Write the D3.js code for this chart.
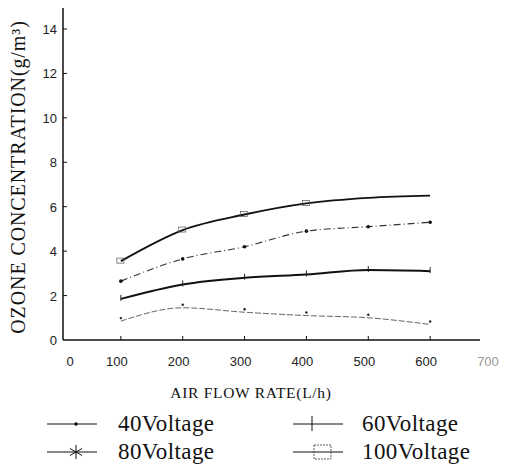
<!DOCTYPE html>
<html>
<head>
<meta charset="utf-8">
<script src="https://cdn.jsdelivr.net/npm/d3@7"></script>
<style>
  body { margin: 0; background: #fff; }
  svg { display: block; }
</style>
</head>
<body>
<svg id="drawing_region"></svg>
<script>
// air flow rate (L/h) and ozone concentration (g/m3) per voltage
const flowRates = [100, 200, 300, 400, 500, 600];
const v40 = [0.85, 1.45, 1.25, 1.1, 1.0, 0.7];
const v60 = [1.85, 2.5, 2.8, 2.95, 3.15, 3.1];
const v80 = [2.65, 3.65, 4.2, 4.9, 5.1, 5.3];
const v100 = [3.55, 4.95, 5.65, 6.15, 6.4, 6.5];
const seriesNames = ["40Voltage", "60Voltage", "80Voltage", "100Voltage"];
const xTicks = [0, 100, 200, 300, 400, 500, 600, 700];
const yTicks = [0, 2, 4, 6, 8, 10, 12, 14];

const width = 510, height = 467;
const svg = d3.select('#drawing_region')
    .attr('width', width)
    .attr('height', height);

const x = d3.scaleLinear().domain([0, 700]).range([59, 492]);
const y = d3.scaleLinear().domain([0, 14]).range([340, 29]);
const axisX = 63;

const series = [
    { name: seriesNames[0], values: v40, width: 1.0, color: '#666', dash: '6,2', marker: 'dot' },
    { name: seriesNames[1], values: v60, width: 2.0, color: '#111', dash: null, marker: 'plus' },
    { name: seriesNames[2], values: v80, width: 1.1, color: '#333', dash: '7,3,1,3', marker: 'star' },
    { name: seriesNames[3], values: v100, width: 1.9, color: '#111', dash: null, marker: 'square' },
];

// axes
svg.append('line')
    .attr('x1', axisX).attr('x2', axisX)
    .attr('y1', 8).attr('y2', y(0))
    .attr('stroke', '#111').attr('stroke-width', 1.5);
svg.append('line')
    .attr('x1', axisX).attr('x2', 480)
    .attr('y1', y(0)).attr('y2', y(0))
    .attr('stroke', '#111').attr('stroke-width', 1.5);

svg.selectAll('.ytick')
    .data(yTicks.filter(d => d > 0))
    .enter()
    .append('line')
    .attr('x1', axisX).attr('x2', axisX + 4)
    .attr('y1', d => y(d)).attr('y2', d => y(d))
    .attr('stroke', '#111');

svg.selectAll('.ylab')
    .data(yTicks)
    .enter()
    .append('text')
    .attr('x', 57)
    .attr('y', d => y(d) + 5)
    .attr('text-anchor', 'end')
    .attr('font-family', 'Liberation Sans, Arial, sans-serif')
    .attr('font-size', 13)
    .attr('fill', '#222')
    .text(d => d);

svg.selectAll('.xtick')
    .data(xTicks.filter(d => d > 0 && d < 700))
    .enter()
    .append('line')
    .attr('x1', d => x(d)).attr('x2', d => x(d))
    .attr('y1', y(0)).attr('y2', y(0) - 4)
    .attr('stroke', '#111');

svg.selectAll('.xlab')
    .data(xTicks)
    .enter()
    .append('text')
    .attr('x', d => d === 0 ? x(d) + 11 : x(d) - 4)
    .attr('y', 366)
    .attr('text-anchor', 'middle')
    .attr('font-family', 'Liberation Sans, Arial, sans-serif')
    .attr('font-size', 13)
    .attr('fill', d => d === 700 ? '#999' : '#222')
    .text(d => d);

// axis titles
svg.append('text')
    .attr('transform', `translate(25, 177) rotate(-90)`)
    .attr('text-anchor', 'middle')
    .attr('font-family', 'Liberation Serif, Times New Roman, serif')
    .attr('font-size', 20)
    .attr('letter-spacing', 0.9)
    .attr('fill', '#111')
    .text('OZONE CONCENTRATION(g/m³)');

svg.append('text')
    .attr('x', 251)
    .attr('y', 398)
    .attr('text-anchor', 'middle')
    .attr('font-family', 'Liberation Serif, Times New Roman, serif')
    .attr('font-size', 15.5)
    .attr('letter-spacing', 0.7)
    .attr('fill', '#111')
    .text('AIR FLOW RATE(L/h)');

// lines
const line = d3.line()
    .x(d => x(d.x))
    .y(d => y(d.y))
    .curve(d3.curveMonotoneX);

function drawMarker(g, type, cx, cy) {
    if (type === 'dot') {
        g.append('circle').attr('cx', cx).attr('cy', cy).attr('r', 1.8).attr('fill', '#111');
    } else if (type === 'plus') {
        g.append('line').attr('x1', cx).attr('x2', cx).attr('y1', cy - 8).attr('y2', cy + 7)
            .attr('stroke', '#111').attr('stroke-width', 1);
    } else if (type === 'star') {
        [0, 60, 120].forEach(a => {
            const r = a * Math.PI / 180;
            g.append('line')
                .attr('x1', cx - 7 * Math.sin(r)).attr('x2', cx + 7 * Math.sin(r))
                .attr('y1', cy - 7 * Math.cos(r)).attr('y2', cy + 7 * Math.cos(r))
                .attr('stroke', '#111').attr('stroke-width', 1);
        });
    } else if (type === 'square') {
        g.append('rect').attr('x', cx - 8).attr('y', cy - 7).attr('width', 17).attr('height', 14)
            .attr('fill', 'none').attr('stroke', '#333').attr('stroke-width', 0.8)
            .attr('stroke-dasharray', '2,1');
    }
}

series.forEach(s => {
    const pts = flowRates.map((f, i) => ({ x: f, y: s.values[i] }));
    svg.append('path')
        .datum(pts)
        .attr('d', line)
        .attr('fill', 'none')
        .attr('stroke', s.color)
        .attr('stroke-width', s.width)
        .attr('stroke-dasharray', s.dash);
    const g = svg.append('g');
    pts.forEach(p => {
        const cx = x(p.x), cy = y(p.y);
        if (s.marker === 'dot') g.append('circle').attr('cx', cx).attr('cy', cy - 3).attr('r', 1.2).attr('fill', '#222');
        else if (s.marker === 'plus') g.append('line').attr('x1', cx).attr('x2', cx).attr('y1', cy - 4).attr('y2', cy + 2).attr('stroke', '#222');
        else if (s.marker === 'star') g.append('circle').attr('cx', cx).attr('cy', cy).attr('r', 1.8).attr('fill', '#111');
        else if (s.marker === 'square' && p.x <= 400) g.append('rect').attr('x', cx - 4).attr('y', cy - 3).attr('width', 7).attr('height', 5)
            .attr('fill', 'none').attr('stroke', '#555').attr('stroke-width', 0.7);
    });
});

// legend
const legendPos = [
    { lx: 47, mx: 76, tx: 118, ty: 424 },
    { lx: 293, mx: 312, tx: 362, ty: 424 },
    { lx: 47, mx: 76, tx: 118, ty: 452 },
    { lx: 293, mx: 322, tx: 362, ty: 452 },
];
series.forEach((s, i) => {
    const p = legendPos[i];
    const g = svg.append('g');
    g.append('line')
        .attr('x1', p.lx).attr('x2', p.lx + 50)
        .attr('y1', p.ty).attr('y2', p.ty)
        .attr('stroke', '#111').attr('stroke-width', 1);
    drawMarker(g, s.marker, p.mx, p.ty);
    g.append('text')
        .attr('x', p.tx)
        .attr('y', p.ty + 7)
        .attr('font-family', 'Liberation Serif, Times New Roman, serif')
        .attr('font-size', 23)
        .attr('letter-spacing', 0.4)
        .attr('fill', '#111')
        .text(s.name);
});
</script>
</body>
</html>
